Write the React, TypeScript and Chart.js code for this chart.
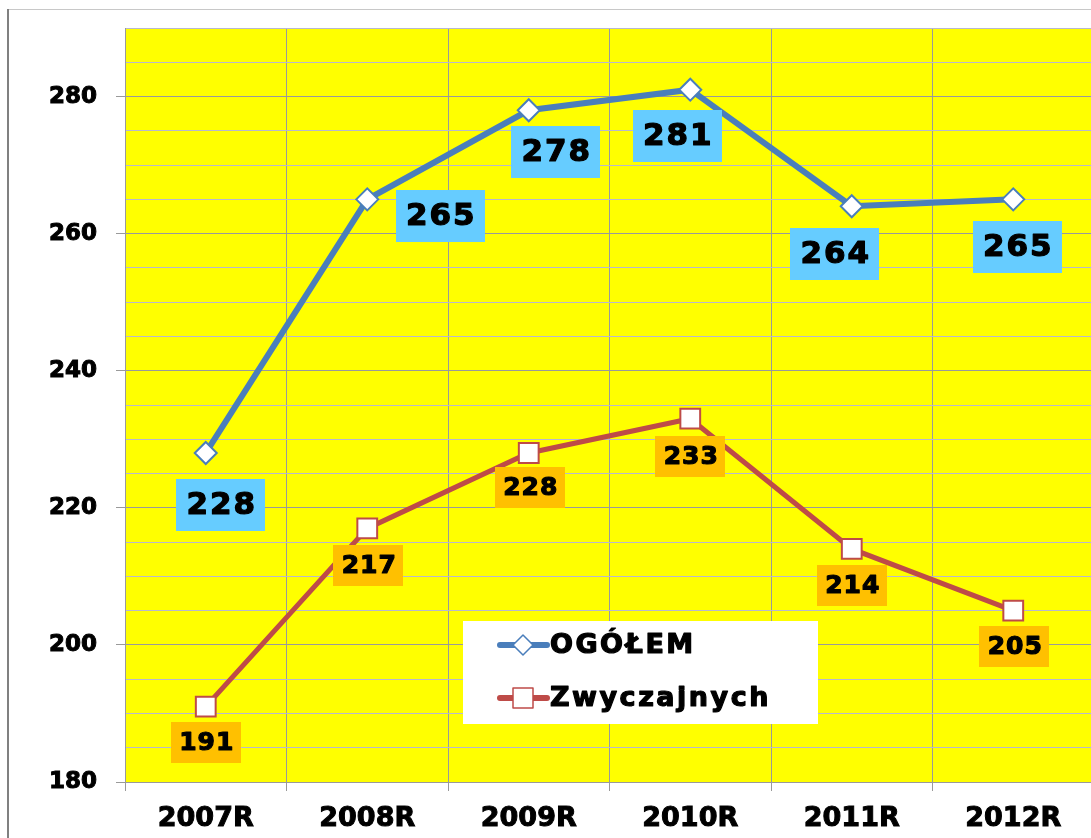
import React, { useEffect, useRef } from "react";
import { Chart, registerables } from "chart.js";

Chart.register(...registerables);

// ---- data ----
const categories = ["2007R", "2008R", "2009R", "2010R", "2011R", "2012R"];
const seriesNames = ["OGÓŁEM", "Zwyczajnych"];
const ogolem = [228, 265, 278, 281, 264, 265];
const zwyczajnych = [191, 217, 228, 233, 214, 205];
const yMin = 180;
const yMax = 290;
const yMajorStep = 20;
const yMinorStep = 5;

// ---- style (label offsets relative to point, in px) ----
const ogolemLabelOffsets = [[15, 52], [73, 17], [27, 42], [-13, 46], [-17, 48], [4, 48]];
const zwyczLabelOffsets = [[0, 36], [1, 37], [1, 35], [0, 38], [0, 37], [1, 36]];

const FONT = '"DejaVu Sans", "Liberation Sans", sans-serif';
const BLUE = "#4A7EBB";
const RED = "#BE4B48";

function drawDiamond(ctx: CanvasRenderingContext2D, x: number, y: number, r: number, color: string) {
  ctx.beginPath();
  ctx.moveTo(x, y - r);
  ctx.lineTo(x + r, y);
  ctx.lineTo(x, y + r);
  ctx.lineTo(x - r, y);
  ctx.closePath();
  ctx.fillStyle = "#fff";
  ctx.fill();
  ctx.lineWidth = 1.5;
  ctx.strokeStyle = color;
  ctx.stroke();
}

const decorPlugin = {
  id: "decor",
  beforeDraw(chart: any) {
    const { ctx, chartArea: a } = chart;
    ctx.save();
    ctx.fillStyle = "#fff";
    ctx.fillRect(0, 0, chart.width, chart.height);
    ctx.fillStyle = "#FFFF00";
    ctx.fillRect(a.left, a.top, a.right - a.left, a.bottom - a.top);
    ctx.fillStyle = "#c8c8c8";
    ctx.fillRect(7, 9, chart.width, 1);
    ctx.fillStyle = "#808080";
    ctx.fillRect(7, 9, 2, chart.height);
    ctx.restore();
  },
  afterDatasetsDraw(chart: any) {
    const { ctx, chartArea: a } = chart;
    ctx.save();
    const specs = [
      { idx: 0, offs: ogolemLabelOffsets, w: 89, h: 52, bg: "#66CCFF", size: 31, sp: "2px" },
      { idx: 1, offs: zwyczLabelOffsets, w: 70, h: 41, bg: "#FFC000", size: 25, sp: "1px" },
    ];
    specs.forEach((s) => {
      const meta = chart.getDatasetMeta(s.idx);
      const data = chart.data.datasets[s.idx].data;
      meta.data.forEach((el: any, i: number) => {
        const cx = el.x + s.offs[i][0];
        const cy = el.y + s.offs[i][1];
        ctx.fillStyle = s.bg;
        ctx.fillRect(Math.round(cx - s.w / 2), Math.round(cy - s.h / 2), s.w, s.h);
        ctx.fillStyle = "#000";
        ctx.strokeStyle = "#000";
        ctx.lineWidth = 1.2;
        ctx.lineJoin = "round";
        ctx.font = `bold ${s.size}px ${FONT}`;
        (ctx as any).letterSpacing = s.sp;
        ctx.textAlign = "center";
        ctx.textBaseline = "middle";
        ctx.strokeText(String(data[i]), cx + 1, cy + 1);
        ctx.fillText(String(data[i]), cx + 1, cy + 1);
      });
    });

    // legend
    const lx = a.left + 338;
    const ly = a.top + 593;
    ctx.fillStyle = "#fff";
    ctx.fillRect(lx, ly, 355, 103);
    const rows = [
      { y: ly + 24, color: BLUE, name: seriesNames[0], marker: "diamond" },
      { y: ly + 77, color: RED, name: seriesNames[1], marker: "square" },
    ];
    rows.forEach((r) => {
      ctx.strokeStyle = r.color;
      ctx.lineWidth = 6;
      ctx.lineCap = "round";
      ctx.beginPath();
      ctx.moveTo(lx + 37, r.y);
      ctx.lineTo(lx + 84, r.y);
      ctx.stroke();
      const mx = lx + 60;
      if (r.marker === "diamond") {
        drawDiamond(ctx, mx, r.y, 10, r.color);
      } else {
        ctx.fillStyle = "#fff";
        ctx.fillRect(mx - 10, r.y - 10, 20, 20);
        ctx.lineWidth = 1.5;
        ctx.strokeStyle = r.color;
        ctx.strokeRect(mx - 10, r.y - 10, 20, 20);
      }
      ctx.fillStyle = "#000";
      ctx.strokeStyle = "#000";
      ctx.lineWidth = 1.2;
      ctx.lineJoin = "round";
      ctx.font = `bold 27px ${FONT}`;
      (ctx as any).letterSpacing = "2.5px";
      ctx.textAlign = "left";
      ctx.textBaseline = "middle";
      ctx.strokeText(r.name, lx + 87, r.y + 1);
      ctx.fillText(r.name, lx + 87, r.y + 1);
    });
    ctx.restore();
  },
};

export default function App() {
  const ref = useRef<HTMLCanvasElement | null>(null);

  useEffect(() => {
    if (!ref.current) return;
    const chart = new Chart(ref.current, {
      type: "line",
      data: {
        labels: categories,
        datasets: [
          {
            label: seriesNames[0],
            data: ogolem,
            borderColor: BLUE,
            borderWidth: 6,
            pointStyle: "rectRot",
            pointRadius: 11,
            pointBackgroundColor: "#fff",
            pointBorderColor: BLUE,
            pointBorderWidth: 2,
            tension: 0,
          },
          {
            label: seriesNames[1],
            data: zwyczajnych,
            borderColor: RED,
            borderWidth: 5,
            pointStyle: "rect",
            pointRadius: 14,
            pointBackgroundColor: "#fff",
            pointBorderColor: RED,
            pointBorderWidth: 2,
            tension: 0,
          },
        ],
      },
      options: {
        responsive: false,
        animation: false,
        devicePixelRatio: 1,
        layout: { padding: { left: 0, top: 28, right: 12, bottom: 0 } },
        plugins: {
          legend: { display: false },
          tooltip: { enabled: false },
        },
        scales: {
          x: {
            type: "category",
            offset: true,
            grid: {
              offset: true,
              color: "#9a9a9a",
              tickColor: "#9a9a9a",
              tickLength: 9,
              lineWidth: 1,
            },
            border: { color: "#9a9a9a", width: 1 },
            ticks: {
              color: "#000",
              padding: 12,
              font: { family: FONT, size: 27, weight: "bold" },
              textStrokeColor: "#000",
              textStrokeWidth: 1,
              maxRotation: 0,
            },
            afterFit: (s: any) => {
              s.height = 56;
              s.paddingLeft = 0;
              s.paddingRight = 0;
            },
          },
          y: {
            type: "linear",
            min: yMin,
            max: yMax,
            grid: {
              color: (c: any) => (c.tick && c.tick.value % yMajorStep === 0 ? "#9a9a9a" : "#b8b8cc"),
              tickColor: (c: any) => (c.tick && c.tick.value % yMajorStep === 0 ? "#9a9a9a" : "rgba(0,0,0,0)"),
              tickLength: 9,
              lineWidth: 1,
            },
            border: { color: "#9a9a9a", width: 1 },
            ticks: {
              stepSize: yMinorStep,
              autoSkip: false,
              color: "#000",
              padding: 19,
              font: { family: FONT, size: 23, weight: "bold" },
              textStrokeColor: "#000",
              textStrokeWidth: 1,
              callback: (v: any) => (Number(v) % yMajorStep === 0 ? String(v) : ""),
            },
            afterFit: (s: any) => {
              s.width = 125;
              s.paddingTop = 0;
              s.paddingBottom = 0;
            },
          },
        },
      },
      plugins: [decorPlugin],
    } as any);
    return () => chart.destroy();
  }, []);

  return (
    <div
      style={{
        position: "fixed",
        left: 0,
        top: 0,
        width: "100vw",
        height: "100vh",
        overflow: "hidden",
        background: "#fff",
      }}
    >
      <div style={{ width: 1110, height: 838, position: "relative" }}>
        <canvas ref={ref} width={1110} height={838} style={{ display: "block" }} />
      </div>
    </div>
  );
}
